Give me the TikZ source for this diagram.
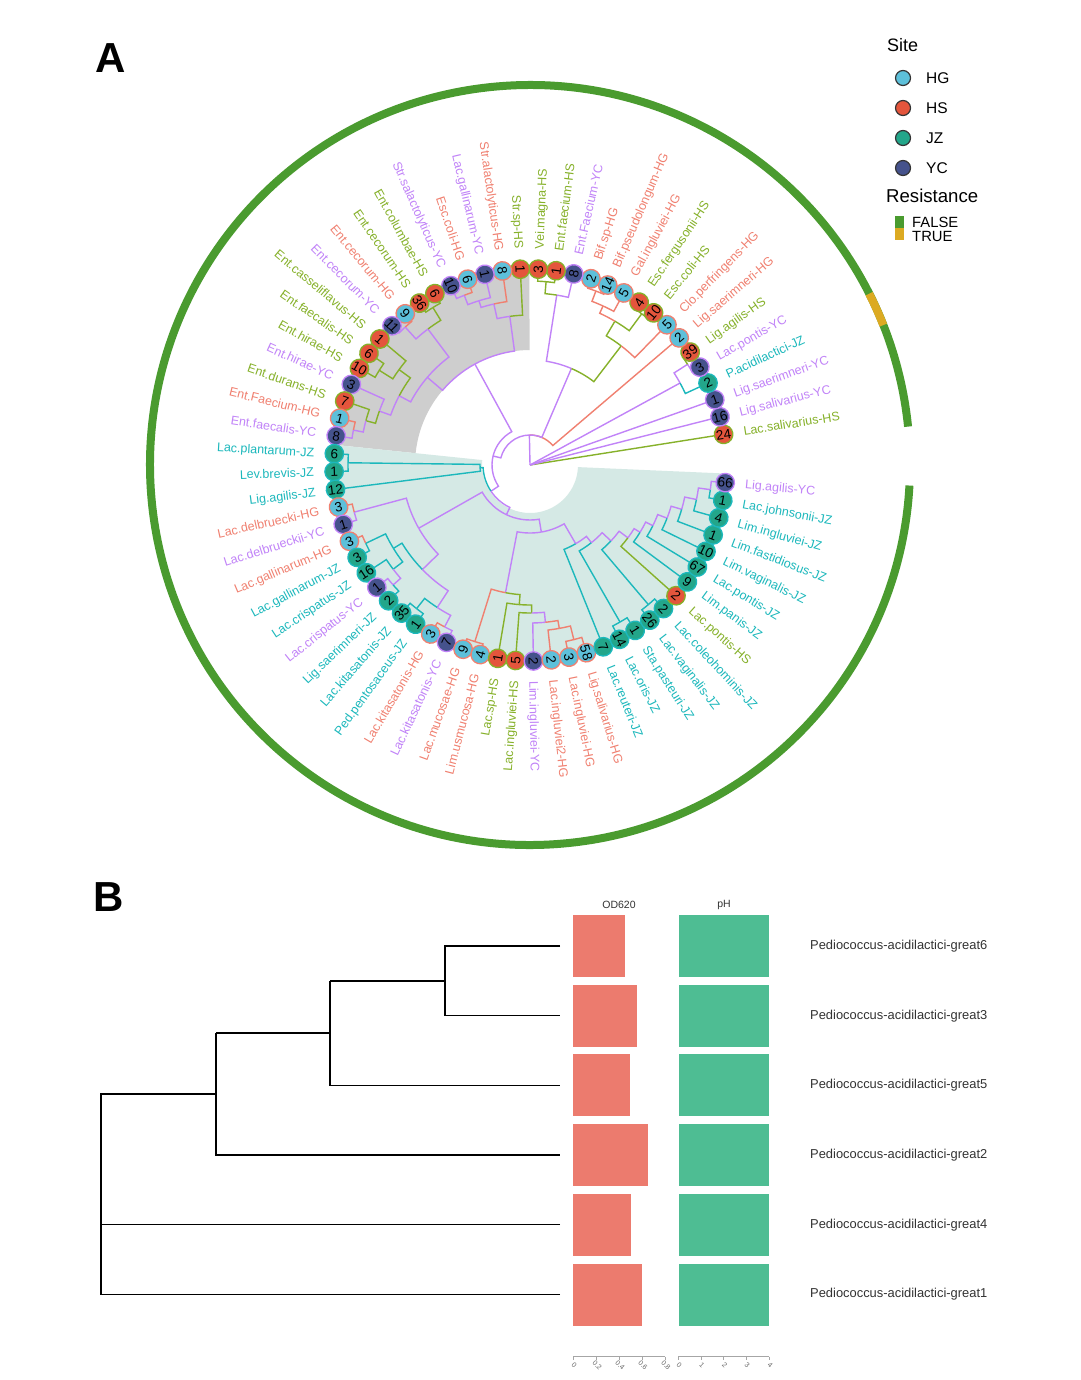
\documentclass[tikz,border=0pt]{standalone}
\usepackage{fontspec}
\setmainfont{Liberation Sans}
\usetikzlibrary{calc}
\definecolor{lHG}{HTML}{F08070}
\definecolor{lHS}{HTML}{86B12A}
\definecolor{lJZ}{HTML}{1CB8BC}
\definecolor{lYC}{HTML}{C183F8}
\definecolor{fHG}{HTML}{5DC0DA}
\definecolor{fHS}{HTML}{E4553C}
\definecolor{fJZ}{HTML}{23A68A}
\definecolor{fYC}{HTML}{45528C}
\definecolor{ringG}{HTML}{4A9B2F}
\definecolor{ringY}{HTML}{DCAA22}
\definecolor{hlgrey}{RGB}{206,206,206}
\definecolor{hlteal}{RGB}{213,233,229}
\definecolor{barR}{HTML}{EC7B6E}
\definecolor{barG}{HTML}{4EBD93}
\definecolor{txtB}{HTML}{333333}
\newcommand\ed[5]{\draw[br,#5] (#1:#2) arc[start angle=#1,end angle=#3,radius=#2] -- (#3:#4);}
\tikzset{
  br/.style={line width=1.4, line join=miter},
  tipc/.style={circle, inner sep=0, minimum size=18.5, line width=1.3, text=black,
    font=\fontsize{13.5}{13.5}\selectfont, text height=9.6pt, text depth=0pt},
  lbl/.style={inner sep=0, font=\fontsize{12.5}{14}\selectfont, text height=9pt, text depth=0pt},
  legc/.style={circle, draw=black!80, line width=1.2, minimum size=15, inner sep=0},
  legt/.style={anchor=west, inner sep=0, font=\fontsize{15.5}{16}\selectfont},
  leaflbl/.style={anchor=west, inner sep=0, text=txtB, font=\fontsize{12.9}{14}\selectfont},
  dend/.style={line width=1.3, black},
  axt/.style={rotate=-45, inner sep=0, text=black!60, font=\fontsize{7}{7}\selectfont}
}
\begin{document}
\begin{tikzpicture}[x=1pt,y=1pt]
\useasboundingbox (0,0) rectangle (1080,-1380);
\fill[white] (0,0) rectangle (1080,-1380);
\node[font=\bfseries\fontsize{42}{42}\selectfont, inner sep=0] (labA) at (111,-58) {A};
\node[font=\bfseries\fontsize{42}{42}\selectfont, inner sep=0] (labB) at (108.5,-897) {B};

\begin{scope}[shift={(530,-465)}]
% highlights
\fill[hlgrey] (90.2:115) arc[start angle=90.2,end angle=174.1,radius=115] -- (174.1:200) arc[start angle=174.1,end angle=90.2,radius=200] -- cycle;
\fill[hlteal] (174.1:48) arc[start angle=174.1,end angle=357.5,radius=48] -- (357.5:200) arc[start angle=357.5,end angle=174.1,radius=200] -- cycle;
% ring
\draw[ringG, line width=8] (5.8:380) arc[start angle=5.8,end angle=356.9,radius=380];
\draw[ringY, line width=8] (21.6:380) arc[start angle=21.6,end angle=26.8,radius=380];
% root edges
\draw[br,lHS] (0,0) -- (9:196);
\draw[br,lYC] (0,0) -- (14.24:196);
\draw[br,lYC] (0,0) -- (19.48:196);
\draw[br,lYC] (0,0) -- (28.65:171);
\draw[br,lYC] (0,0) -- (91.2:30);
\ed{28.65}{171}{24.72}{196}{lJZ}
\ed{28.65}{171}{32.58}{187}{lYC}
\ed{32.58}{187}{29.96}{196}{lYC}
\ed{32.58}{187}{35.20}{196}{lHS}
% D
\ed{91.2}{30}{40.44}{196}{lHG}
\ed{91.2}{30}{66.8}{105}{lYC}
\ed{91.2}{30}{166.3}{38}{lYC}
% W
\ed{66.8}{105}{52.56}{150}{lHS}
\ed{66.8}{105}{81.05}{172}{lYC}
\ed{52.56}{150}{45.68}{196}{lHG}
\ed{52.56}{150}{59.44}{167}{lHS}
\ed{59.44}{167}{53.54}{188}{lHS}
\ed{59.44}{167}{65.33}{175}{lHG}
\ed{53.54}{188}{50.92}{196}{lHS}
\ed{53.54}{188}{56.16}{196}{lHS}
\ed{65.33}{175}{61.40}{196}{lHG}
\ed{65.33}{175}{69.26}{186}{lHG}
\ed{69.26}{186}{66.64}{196}{lHG}
\ed{69.26}{186}{71.88}{196}{lHG}
\ed{81.05}{172}{77.12}{196}{lYC}
\ed{81.05}{172}{84.98}{184}{lHS}
\ed{84.98}{184}{82.36}{196}{lHS}
\ed{84.98}{184}{87.60}{196}{lHS}
% E
\ed{166.3}{38}{118.63}{115}{lYC}
\ed{166.3}{38}{213.9}{47}{lYC}
% G (grey clade)
\ed{118.63}{115}{97.75}{150}{lYC}
\ed{118.63}{115}{139.51}{135}{lYC}
\ed{97.75}{150}{92.84}{196}{lHS}
\ed{97.75}{150}{102.66}{165}{lYC}
\ed{102.66}{165}{98.08}{196}{lHG}
\ed{102.66}{165}{107.25}{172}{lYC}
\ed{107.25}{172}{103.32}{196}{lYC}
\ed{107.25}{172}{111.18}{182}{lYC}
\ed{111.18}{182}{108.56}{196}{lHG}
\ed{111.18}{182}{113.80}{196}{lYC}
\ed{139.51}{135}{126.9}{170}{lYC}
\ed{139.51}{135}{152.12}{148}{lYC}
\ed{126.9}{170}{121.66}{185}{lHS}
\ed{126.9}{170}{132.14}{186}{lYC}
\ed{121.66}{185}{119.04}{196}{lHS}
\ed{121.66}{185}{124.28}{196}{lHS}
\ed{132.14}{186}{129.52}{196}{lHG}
\ed{132.14}{186}{134.76}{196}{lYC}
\ed{152.12}{148}{143.93}{162}{lHS}
\ed{152.12}{148}{160.31}{160}{lYC}
\ed{143.93}{162}{140.00}{196}{lHS}
\ed{143.93}{162}{147.86}{178}{lHS}
\ed{147.86}{178}{145.24}{196}{lHS}
\ed{147.86}{178}{150.48}{196}{lHS}
\ed{160.31}{160}{155.72}{196}{lYC}
\ed{160.31}{160}{164.89}{170}{lHS}
\ed{164.89}{170}{160.96}{196}{lHS}
\ed{164.89}{170}{168.82}{180}{lYC}
\ed{168.82}{180}{166.20}{196}{lHG}
\ed{168.82}{180}{171.44}{196}{lYC}
% T (teal clade)
\ed{213.9}{47}{183.2}{50}{lJZ}
\ed{213.9}{47}{244.6}{55}{lYC}
\ed{183.2}{50}{179.3}{182}{lJZ}
\ed{183.2}{50}{187.16}{196}{lJZ}
\ed{179.3}{182}{176.68}{196}{lJZ}
\ed{179.3}{182}{181.92}{196}{lJZ}
\ed{244.6}{55}{209.6}{128}{lYC}
\ed{244.6}{55}{279.6}{68}{lYC}
\ed{209.6}{128}{195.02}{182}{lYC}
\ed{209.6}{128}{224.17}{150}{lYC}
\ed{195.02}{182}{192.40}{196}{lHG}
\ed{195.02}{182}{197.64}{196}{lYC}
\ed{224.17}{150}{211.4}{160}{lJZ}
\ed{224.17}{150}{236.94}{170}{lYC}
\ed{211.4}{160}{205.5}{182}{lJZ}
\ed{211.4}{160}{217.29}{172}{lJZ}
\ed{205.5}{182}{202.88}{196}{lHG}
\ed{205.5}{182}{208.12}{196}{lJZ}
\ed{217.29}{172}{213.36}{196}{lJZ}
\ed{217.29}{172}{221.22}{182}{lYC}
\ed{221.22}{182}{218.60}{196}{lYC}
\ed{221.22}{182}{223.84}{196}{lJZ}
\ed{236.94}{170}{231.7}{183}{lJZ}
\ed{236.94}{170}{242.18}{183}{lYC}
\ed{231.7}{183}{229.08}{196}{lJZ}
\ed{231.7}{183}{234.32}{196}{lJZ}
\ed{242.18}{183}{239.56}{196}{lHG}
\ed{242.18}{183}{244.80}{196}{lYC}
\ed{279.6}{68}{259.13}{130}{lYC}
\ed{279.6}{68}{300.14}{91}{lYC}
\ed{259.13}{130}{252.66}{185}{lHG}
\ed{259.13}{130}{265.6}{140}{lHS}
\ed{252.66}{185}{250.04}{196}{lHG}
\ed{252.66}{185}{255.28}{196}{lHG}
\ed{265.6}{140}{260.52}{196}{lHS}
\ed{265.6}{140}{270.67}{148}{lHS}
\ed{270.67}{148}{265.76}{196}{lHS}
\ed{270.67}{148}{275.59}{158}{lYC}
\ed{275.59}{158}{271.00}{196}{lYC}
\ed{275.59}{158}{280.17}{166}{lHG}
\ed{280.17}{166}{276.24}{196}{lHG}
\ed{280.17}{166}{284.10}{180}{lHG}
\ed{284.10}{180}{281.48}{196}{lHG}
\ed{284.10}{180}{286.72}{196}{lHG}
\ed{300.14}{91}{291.96}{196}{lJZ}
\ed{300.14}{91}{308.33}{99}{lYC}
\ed{308.33}{99}{299.82}{181}{lJZ}
\ed{308.33}{99}{316.83}{111}{lYC}
\ed{299.82}{181}{297.20}{196}{lJZ}
\ed{299.82}{181}{302.44}{196}{lJZ}
\ed{316.83}{111}{310.30}{183}{lJZ}
\ed{316.83}{111}{323.36}{122}{lYC}
\ed{310.30}{183}{307.68}{196}{lJZ}
\ed{310.30}{183}{312.92}{196}{lJZ}
\ed{323.36}{122}{318.16}{196}{lHS}
\ed{323.36}{122}{328.56}{129}{lYC}
\ed{328.56}{129}{323.40}{196}{lJZ}
\ed{328.56}{129}{333.72}{137}{lYC}
\ed{333.72}{137}{328.64}{196}{lJZ}
\ed{333.72}{137}{338.79}{147}{lYC}
\ed{338.79}{147}{333.88}{196}{lJZ}
\ed{338.79}{147}{343.71}{158}{lYC}
\ed{343.71}{158}{339.12}{196}{lJZ}
\ed{343.71}{158}{348.29}{170}{lYC}
\ed{348.29}{170}{344.36}{196}{lJZ}
\ed{348.29}{170}{352.22}{182}{lYC}
\ed{352.22}{182}{349.60}{196}{lJZ}
\ed{352.22}{182}{354.84}{196}{lYC}
% tips and labels
\foreach \i/\lab/\s/\cnt in {
1/Lac.salivarius-HS/HS/24, 2/Lig.salivarius-YC/YC/16, 3/Lig.saerimneri-YC/YC/1,
4/P.acidilactici-JZ/JZ/2, 5/Lac.pontis-YC/YC/3, 6/Lig.agilis-HS/HS/39,
7/Lig.saerimneri-HG/HG/2, 8/Clo.perfringens-HG/HG/5, 9/Esc.coli-HS/HS/10,
10/Esc.fergusonii-HS/HS/4, 11/Gal.ingluviei-HG/HG/5, 12/Bif.pseudolongum-HG/HG/14,
13/Bif.sp-HG/HG/2, 14/Ent.Faecium-YC/YC/8, 15/Ent.faecium-HS/HS/1,
16/Vei.magna-HS/HS/3, 17/Str.sp-HS/HS/1, 18/Str.alactolyticus-HG/HG/8,
19/Lac.gallinarum-YC/YC/1, 20/Esc.coli-HG/HG/6, 21/Str.salactolyticus-YC/YC/10,
22/Ent.columbae-HS/HS/6, 23/Ent.cecorum-HS/HS/36, 24/Ent.cecorum-HG/HG/9,
25/Ent.cecorum-YC/YC/11, 26/Ent.casseliflavus-HS/HS/1, 27/Ent.faecalis-HS/HS/6,
28/Ent.hirae-HS/HS/10, 29/Ent.hirae-YC/YC/3, 30/Ent.durans-HS/HS/7,
31/Ent.Faecium-HG/HG/1, 32/Ent.faecalis-YC/YC/8, 33/Lac.plantarum-JZ/JZ/6,
34/Lev.brevis-JZ/JZ/1, 35/Lig.agilis-JZ/JZ/12, 36/Lac.delbruecki-HG/HG/3,
37/Lac.delbrueckii-YC/YC/1, 38/Lac.gallinarum-HG/HG/3, 39/Lac.gallinarum-JZ/JZ/3,
40/Lac.crispatus-JZ/JZ/16, 41/Lac.crispatus-YC/YC/1, 42/Lig.saerimneri-JZ/JZ/2,
43/Lac.kitasatonis-JZ/JZ/35, 44/Ped.pentosaceus-JZ/JZ/1, 45/Lac.kitasatonis-HG/HG/3,
46/Lac.kitasatonis-YC/YC/7, 47/Lac.mucosae-HG/HG/9, 48/Lim.usmucosa-HG/HG/4,
49/Lac.sp-HS/HS/1, 50/Lac.ingluviei-HS/HS/5, 51/Lim.ingluviei-YC/YC/2,
52/Lac.ingluviei2-HG/HG/2, 53/Lac.ingluviei-HG/HG/3, 54/Lig.salivarius-HG/HG/58,
55/Lac.reuteri-JZ/JZ/7, 56/Lac.oris-JZ/JZ/14, 57/Sta.pasteuri-JZ/JZ/1,
58/Lac.vaginalis-JZ/JZ/26, 59/Lac.coleohominis-JZ/JZ/2, 60/Lac.pontis-HS/HS/2,
61/Lim.panis-JZ/JZ/9, 62/Lac.pontis-JZ/JZ/67, 63/Lim.vaginalis-JZ/JZ/10,
64/Lim.fastidiosus-JZ/JZ/1, 65/Lim.ingluviei-JZ/JZ/4, 66/Lac.johnsonii-JZ/JZ/1,
67/Lig.agilis-YC/YC/66}{
  \pgfmathsetmacro\a{9+(\i-1)*5.24}
  \pgfmathtruncatemacro\lf{and(\a>90,\a<270)}
  \ifnum\lf=1 \pgfmathsetmacro\rot{\a-180}\def\anc{east}\else\pgfmathsetmacro\rot{\a}\def\anc{west}\fi
  \node[tipc, fill=f\s, draw=l\s, rotate=\rot] (t\i) at (\a:196) {\cnt};
  \node[lbl, text=l\s, rotate=\rot, anchor=\anc] (n\i) at (\a:216) {\lab};
}
\end{scope}

% legend
\node[anchor=west, inner sep=0, font=\fontsize{18}{20}\selectfont] (lsite) at (887,-45) {Site};
\foreach \s/\y in {HG/78,HS/108,JZ/138,YC/168}{
  \node[legc, fill=f\s] (lg\s) at (903,-\y) {};
  \node[legt] (lgt\s) at (926,-\y) {\s};
}
\node[anchor=west, inner sep=0, font=\fontsize{18.6}{20}\selectfont] (lres) at (886,-196) {Resistance};
\node[fill=ringG, inner sep=0, minimum width=9, minimum height=12] (lgF) at (899.5,-222) {};
\node[fill=ringY, inner sep=0, minimum width=9, minimum height=12] (lgT) at (899.5,-234) {};
\node[anchor=west, inner sep=0, font=\fontsize{14.8}{15}\selectfont] (lgFt) at (912,-222) {FALSE};
\node[anchor=west, inner sep=0, font=\fontsize{14.8}{15}\selectfont] (lgTt) at (912,-236.5) {TRUE};

% panel B
\node[text=txtB, font=\fontsize{10.5}{11}\selectfont] (hOD) at (619,-905) {OD620};
\node[text=txtB, font=\fontsize{10.5}{11}\selectfont] (hPH) at (724,-905) {pH};
\foreach \k/\nm/\od in {0/great6/0.452, 1/great3/0.557, 2/great5/0.496, 3/great2/0.652, 4/great4/0.504, 5/great1/0.600}{
  \pgfmathsetmacro\yy{-(946+69.7*\k)}
  \pgfmathsetmacro\xr{573+115*\od}
  \fill[barR] (573,\yy+31) rectangle (\xr,\yy-31);
  \fill[barG] (679,\yy+31) rectangle (769,\yy-31);
  \coordinate (e\nm) at (560,\yy);
  \node[leaflbl] (p\nm) at (810,\yy) {Pediococcus-acidilactici-\nm};
}
\coordinate (na) at (445,-980.85);
\coordinate (nb) at (330,-1033.1);
\coordinate (nc) at (216,-1094.1);
\draw[dend] (egreat6) -- (egreat6 -| na) -- (egreat3 -| na) -- (egreat3);
\draw[dend] (na) -- (na -| nb);
\draw[dend] (na -| nb) -- (egreat5 -| nb) -- (egreat5);
\draw[dend] (nb) -- (nb -| nc);
\draw[dend] (nb -| nc) -- (egreat2 -| nc) -- (egreat2);
\draw[dend] (nc) -- (101,-1094.1) -- (101,-1294.5);
\draw[dend] (egreat4) -- (egreat4 -| 101,0);
\draw[dend] (egreat1) -- (egreat1 -| 101,0);
% axes
\draw[black!35, line width=0.8] (573,-1356.7) -- (665,-1356.7);
\draw[black!35, line width=0.8] (678.3,-1356.7) -- (769.3,-1356.7);
\foreach \v/\x in {0/573.3, 0.2/596.2, 0.4/619.1, 0.6/642, 0.8/665, 0/678.3, 1/701, 2/723.7, 3/746.3, 4/769.3}{
  \draw[black!35, line width=0.8] (\x,-1356.7) -- (\x,-1359.5);
  \node[axt] at (\x+1,-1365) {\v};
}
\end{tikzpicture}
\end{document}
